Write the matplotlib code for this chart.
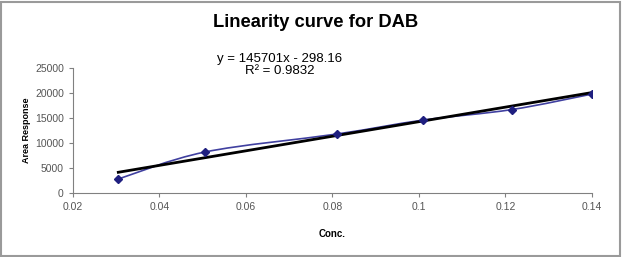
import matplotlib.pyplot as plt
from matplotlib.path import Path
from matplotlib.patches import PathPatch, Rectangle
import numpy as np

plt.rcParams["font.family"] = ["Liberation Sans", "DejaVu Sans"]

conc = [0.0305, 0.0505, 0.081, 0.101, 0.1215, 0.14]
area = [2800, 8200, 11800, 14600, 16700, 19800]
slope = 145701
intercept = -298.16
r2 = 0.9832
x_ticks = [0.02, 0.04, 0.06, 0.08, 0.1, 0.12, 0.14]
x_labels = ["0.02", "0.04", "0.06", "0.08", "0.1", "0.12", "0.14"]
y_ticks = [0, 5000, 10000, 15000, 20000, 25000]


def smooth_path(xs, ys, t=1 / 6):
    # Catmull-Rom style bezier, like Excel's smoothed line
    pts = np.column_stack([xs, ys])
    verts = [pts[0]]
    codes = [Path.MOVETO]
    n = len(pts)
    for i in range(n - 1):
        p0 = pts[max(i - 1, 0)]
        p1 = pts[i]
        p2 = pts[i + 1]
        p3 = pts[min(i + 2, n - 1)]
        verts += [p1 + (p2 - p0) * t, p2 - (p3 - p1) * t, p2]
        codes += [Path.CURVE4] * 3
    return Path(verts, codes)


fig = plt.figure(figsize=(6.23, 2.57), dpi=100)
ax = fig.add_axes([0.117, 0.249, 0.833, 0.486])

ax.add_patch(PathPatch(smooth_path(conc, area), fill=False,
                       edgecolor="#4040a0", linewidth=1.2, zorder=2))
ax.plot(conc, area, linestyle="none", marker="D", markersize=4,
        color="#1f1f80", zorder=4)
fit_x = np.array([conc[0], conc[-1]])
ax.plot(fit_x, slope * fit_x + intercept, color="black", linewidth=2, zorder=3)

ax.set_xlim(0.02, 0.14)
ax.set_ylim(0, 25000)
ax.set_xticks(x_ticks)
ax.set_xticklabels(x_labels)
ax.set_yticks(y_ticks)
for s in ["top", "right"]:
    ax.spines[s].set_visible(False)
for s in ["left", "bottom"]:
    ax.spines[s].set_color("#808080")
    ax.spines[s].set_linewidth(0.8)
ax.tick_params(colors="#808080", labelcolor="#555555", labelsize=7.5,
               length=3, width=0.8)

ax.set_xlabel("Conc.", fontsize=7, fontweight="bold", labelpad=12)
ax.set_ylabel("Area Response", fontsize=6.5, fontweight="bold", labelpad=3)

fig.text(0.506, 0.912, "Linearity curve for DAB", ha="center", va="center",
         fontsize=13.2, fontweight="bold")
fig.text(0.449, 0.747, f"y = {slope}x - {abs(intercept)}\nR\u00b2 = {r2}",
         ha="center", va="center", fontsize=9.5, linespacing=0.95)

fig.add_artist(Rectangle((0.002, 0.004), 0.993, 0.99, transform=fig.transFigure,
                         fill=False, edgecolor="#9a9a9a", linewidth=1.5))

fig.savefig("out.png", dpi=100)
